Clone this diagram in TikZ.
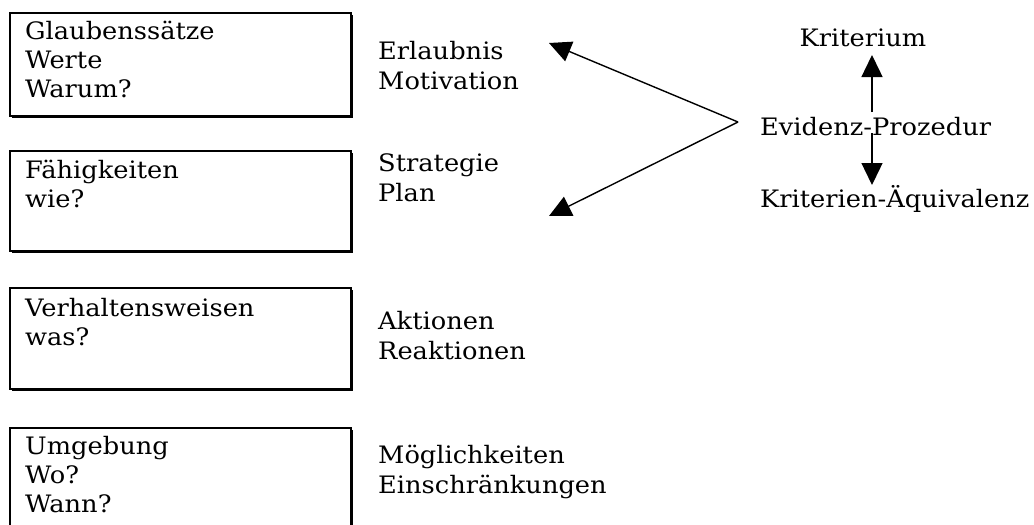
\documentclass[tikz,border=0pt]{standalone}
\usepackage{fontspec}
\setmainfont[FakeStretch=1.07]{DejaVu Serif}
\usetikzlibrary{arrows.meta,shadows}
\begin{document}
\begin{tikzpicture}[x=1pt,y=-1pt,
  every node/.style={inner sep=0pt, font=\fontsize{24}{29}\selectfont},
  box/.style={draw, line width=1.8pt, fill=white, anchor=north west,
    minimum width=341pt,
    drop shadow={shadow xshift=2.4pt, shadow yshift=-2.4pt, fill=black, opacity=1}},
  txt/.style={align=left, anchor=base west},
  side/.style={txt, font=\fontsize{24}{30}\selectfont},
  tip/.style={-{Triangle[length=22pt,width=21pt]}, line width=1.4pt}]
\useasboundingbox (0,0) rectangle (1034,525);
\clip (0,0) rectangle (1034,525);

% logical level boxes
\node[box, minimum height=103pt] (b1) at (9,12) {};
\node[box, minimum height=100pt] (b2) at (9,150) {};
\node[box, minimum height=101pt] (b3) at (9,287) {};
\node[box, minimum height=110pt] (b4) at (9,427) {};

% box texts (anchored on the baseline of their last line)
\node[txt] (t1) at (25,97) {Glaubenssätze\\Werte\\Warum?};
\node[txt] (t2) at (25,207) {Fähigkeiten\\wie?};
\node[txt] (t3) at (25,345) {Verhaltensweisen\\was?};
\node[txt] (t4) at (25,512) {Umgebung\\Wo?\\Wann?};

% side labels
\node[side] (l1) at (378,89) {Erlaubnis\\Motivation};
\node[side] (l2) at (378,201) {Strategie\\Plan};
\node[side] (l3) at (378,359) {Aktionen\\Reaktionen};
\node[side] (l4) at (378,493) {Möglichkeiten\\Einschränkungen};

% evidence procedure
\node[anchor=base] (krit) at (863,46) {Kriterium};
\node[anchor=base west] (evid) at (760,135) {Evidenz-Prozedur};
\node[anchor=base west] (kaeq) at (760,207) {Kriterien-Äquivalenz};

\coordinate (hub) at (738,122);
\coordinate (upA) at (549,43);
\coordinate (loA) at (549,216);
\coordinate (vtop) at (872,112);
\coordinate (vtip) at (872,55);
\coordinate (vbot) at (872,133);
\coordinate (vend) at (872,185);

\draw[tip] (hub) -- (upA);
\draw[tip] (hub) -- (loA);
\draw[tip] (vtop) -- (vtip);
\draw[tip] (vbot) -- (vend);
\end{tikzpicture}
\end{document}
